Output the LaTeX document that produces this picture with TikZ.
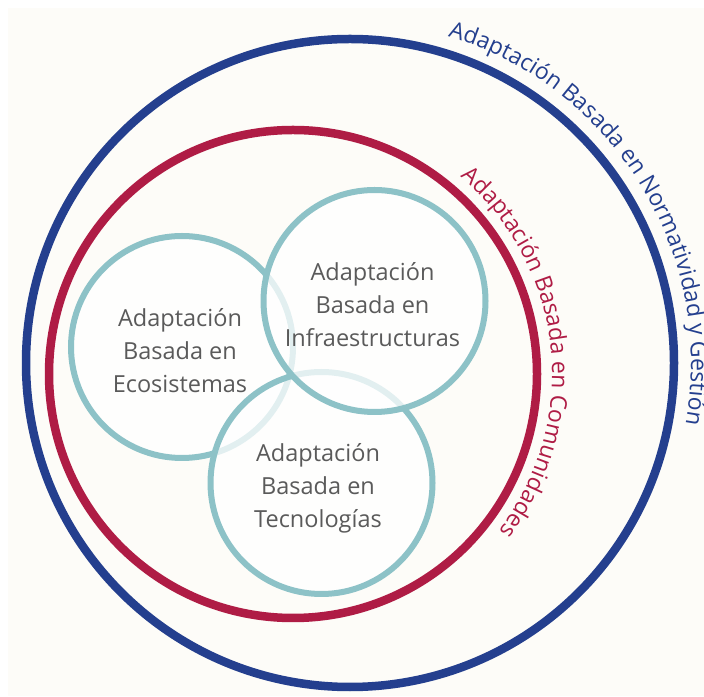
\documentclass[tikz,border=0pt]{standalone}
\usepackage{fontspec}
\setmainfont{Open Sans}
\usetikzlibrary{decorations.text}
\definecolor{bluec}{HTML}{243F8E}
\definecolor{redc}{HTML}{AF1C45}
\definecolor{tealc}{HTML}{8DC2C7}
\definecolor{textc}{HTML}{5A5A5A}
\definecolor{bgc}{HTML}{FDFCF8}
\begin{document}
\begin{tikzpicture}[x=1pt,y=1pt,
  ring/.style={line width=8.5pt},
  bubble/.style={draw=tealc, line width=6pt, fill=white, fill opacity=.75},
  lbl/.style={text=textc, align=center, inner sep=0pt, font=\fontsize{23.5}{33}\selectfont},
  arctext/.style={decorate, decoration={text along path, text align=center, text={#1}}}]
\useasboundingbox (0,0) rectangle (704,696);
\fill[white] (0,0) rectangle (704,696);
\fill[bgc] (8,0) rectangle (704,688);
% centres
\coordinate (bc) at (350,333);
\coordinate (rc) at (293,322);
\coordinate (ec) at (182,349);
\coordinate (tc) at (321.5,213);
\coordinate (ic) at (374.5,395);
% rings
\draw[ring, bluec] (bc) circle[radius=324pt];
\draw[ring, redc] (rc) circle[radius=244pt];
% bubbles
\draw[bubble] (ec) circle[radius=111pt];
\draw[bubble] (tc) circle[radius=111pt];
\draw[bubble] (ic) circle[radius=111pt];
% texts
\node[lbl] (eco) at (180,345) {Adaptación\\Basada en\\Ecosistemas};
\node[lbl] (inf) at (372.5,391.5) {Adaptación\\Basada en\\Infraestructuras};
\node[lbl] (tec) at (318,207.5) {Adaptación\\Basada en\\Tecnologías};
% curved labels
\path[arctext={|\fontsize{23}{28}\selectfont\color{bluec}|Adaptación Basada en Normatividad y Gestión}]
  ([shift={(80:341pt)}]bc) arc[start angle=80, end angle=-17, radius=341pt];
\path[arctext={|\fontsize{23}{28}\selectfont\color{redc}|Adaptación Basada en Comunidades}]
  ([shift={(55:259pt)}]rc) arc[start angle=55, end angle=-42.7, radius=259pt];
\end{tikzpicture}
\end{document}
